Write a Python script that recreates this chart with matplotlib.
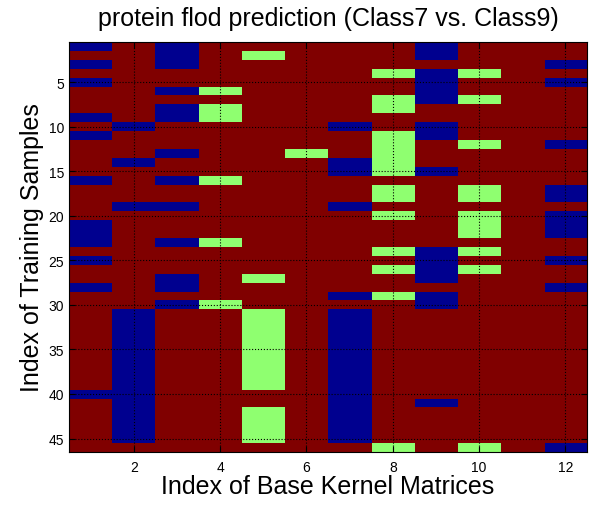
import numpy as np
import matplotlib
matplotlib.use('Agg')
import matplotlib.pyplot as plt
from matplotlib.colors import ListedColormap

plt.rcParams['font.family'] = ['Liberation Sans', 'DejaVu Sans']

n_samples = 46
n_kernels = 12

# rows (1-based) per kernel column: blue = 0, green = 1, everything else red = 2
blue_rows = {
    1: [1, 3, 5, 9, 11, 16, 21, 22, 23, 25, 28, 40],
    2: [10, 14, 19] + list(range(31, 46)),
    3: [1, 2, 3, 6, 8, 9, 13, 16, 19, 23, 27, 28, 30],
    7: [10, 14, 15, 19, 29] + list(range(31, 46)),
    9: [1, 2, 4, 5, 6, 7, 10, 11, 15, 24, 25, 26, 27, 29, 30, 41],
    12: [3, 5, 12, 17, 18, 20, 21, 22, 25, 28, 46],
}
green_rows = {
    4: [6, 8, 9, 16, 23, 30],
    5: [2, 27] + list(range(31, 40)) + [42, 43, 44, 45],
    6: [13],
    8: [4, 7, 8, 11, 12, 13, 14, 15, 17, 18, 20, 24, 26, 29, 46],
    10: [4, 7, 12, 17, 18, 20, 21, 22, 24, 26, 46],
}

M = np.full((n_samples, n_kernels), 2)
for c, rows in blue_rows.items():
    for r in rows:
        M[r - 1, c - 1] = 0
for c, rows in green_rows.items():
    for r in rows:
        M[r - 1, c - 1] = 1

cmap = ListedColormap(['#00008F', '#8FFF70', '#800000'])

fig = plt.figure(figsize=(5.9, 5.06), dpi=100)
ax = fig.add_axes([0.117, 0.105, 0.878, 0.810])
ax.imshow(M, cmap=cmap, vmin=0, vmax=2, aspect='auto', interpolation='nearest',
          extent=[0.5, n_kernels + 0.5, n_samples + 0.5, 0.5])

ax.set_xticks(range(2, 13, 2))
ax.set_yticks(range(5, 46, 5))
ax.tick_params(direction='in', top=True, right=True, labelsize=10, length=4)
ax.tick_params(axis='x', pad=6)
ax.set_axisbelow(False)
ax.grid(True, linestyle=':', color='black', linewidth=0.8)

ax.set_title('protein flod prediction (Class7 vs. Class9)', fontsize=18, pad=12)
ax.set_xlabel('Index of Base Kernel Matrices', fontsize=18, labelpad=0)
ax.set_ylabel('Index of Training Samples', fontsize=18, labelpad=3)

fig.savefig('out.png', dpi=100)
